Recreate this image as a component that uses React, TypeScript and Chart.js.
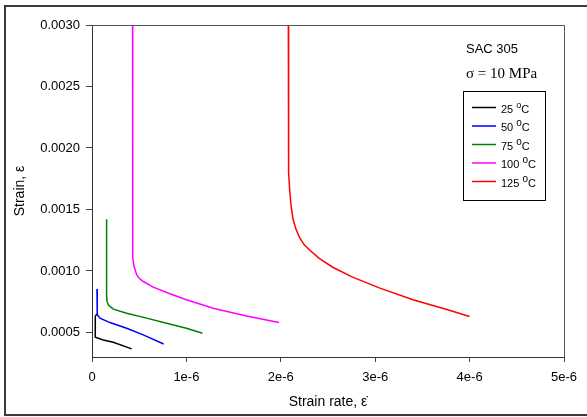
import React, { useEffect, useRef } from "react";
import { Chart, registerables } from "chart.js";

Chart.register(...registerables);

// strain rate values in units of 1e-6 (1/s), strain values dimensionless
const rate25 = [0.05, 0.035, 0.032, 0.032, 0.04, 0.12, 0.225, 0.42];
const strain25 = [0.00065, 0.00063, 0.0006, 0.00048, 0.00046, 0.000439, 0.00042, 0.000366];

const rate50 = [0.053, 0.053, 0.058, 0.085, 0.19, 0.367, 0.543, 0.759];
const strain50 = [0.000852, 0.00067, 0.000643, 0.000616, 0.00058, 0.000534, 0.00048, 0.000406];

const rate75 = [0.155, 0.155, 0.16, 0.173, 0.2, 0.226, 0.367, 0.579, 0.79, 1.0, 1.17];
const strain75 = [0.00142, 0.0008, 0.00075, 0.000724, 0.000705, 0.000689, 0.000656, 0.000616, 0.000575, 0.000534, 0.000493];

const rate100 = [0.43, 0.43, 0.433, 0.444, 0.473, 0.5, 0.543, 0.649, 0.825, 1.0, 1.284, 1.637, 1.98];
const strain100 = [0.003, 0.0012, 0.00111, 0.00104, 0.00097, 0.00094, 0.000914, 0.000868, 0.000814, 0.000765, 0.000697, 0.000634, 0.00058];

const rate125 = [2.08, 2.08, 2.085, 2.095, 2.11, 2.13, 2.16, 2.2, 2.25, 2.32, 2.41, 2.55, 2.76, 3.05, 3.4, 3.75, 4.0];
const strain125 = [0.003, 0.002, 0.0018, 0.00165, 0.00152, 0.00142, 0.00134, 0.00127, 0.00121, 0.00116, 0.0011, 0.00103, 0.00095, 0.00086, 0.000765, 0.000689, 0.00063];

const seriesTemps = ["25", "50", "75", "100", "125"];
const seriesColors = ["#000000", "#0000ff", "#008000", "#ff00ff", "#ff0000"];

const xTicks = [0, 1, 2, 3, 4, 5];
const xTickLabels = ["0", "1e-6", "2e-6", "3e-6", "4e-6", "5e-6"];
const yTicks = [0.0005, 0.001, 0.0015, 0.002, 0.0025, 0.003];
const yTickLabels = ["0.0005", "0.0010", "0.0015", "0.0020", "0.0025", "0.0030"];

const xMin = 0;
const xMax = 5;
const yMin = 0.0003;
const yMax = 0.003;

const materialLabel = "SAC 305";
const stressLabel = "\u03C3 = 10 MPa";

function pts(xs: number[], ys: number[]) {
  return xs.map((x, i) => ({ x, y: ys[i] }));
}

const decorPlugin = {
  id: "decor",
  afterDraw(chart: any) {
    const { ctx, chartArea: ca } = chart;
    ctx.save();
    // outer frame
    ctx.strokeStyle = "#3a3a3a";
    ctx.lineWidth = 2;
    ctx.beginPath();
    ctx.moveTo(600, 6);
    ctx.lineTo(5, 6);
    ctx.lineTo(5, 415);
    ctx.lineTo(600, 415);
    ctx.stroke();
    // plot box top and right
    ctx.strokeStyle = "#555555";
    ctx.lineWidth = 1;
    ctx.beginPath();
    ctx.moveTo(ca.left, Math.round(ca.top) + 0.5);
    ctx.lineTo(Math.round(ca.right) + 0.5, Math.round(ca.top) + 0.5);
    ctx.lineTo(Math.round(ca.right) + 0.5, ca.bottom);
    ctx.stroke();

    // annotations
    ctx.fillStyle = "#000";
    ctx.textBaseline = "alphabetic";
    ctx.textAlign = "left";
    ctx.font = "13px 'Liberation Sans', Arial, sans-serif";
    ctx.fillText(materialLabel, 466, 53);
    ctx.font = "15px 'Liberation Serif', 'Times New Roman', serif";
    ctx.fillText(stressLabel, 466, 78);

    // legend box
    ctx.strokeStyle = "#000";
    ctx.lineWidth = 1;
    ctx.strokeRect(463.5, 91.5, 82, 109);
    const ds = chart.data.datasets;
    for (let i = 0; i < ds.length; i++) {
      const y = 107.5 + i * 18.5;
      ctx.strokeStyle = ds[i].borderColor;
      ctx.lineWidth = 1.5;
      ctx.beginPath();
      ctx.moveTo(472, y);
      ctx.lineTo(496, y);
      ctx.stroke();
      ctx.fillStyle = "#000";
      ctx.font = "11px 'Liberation Sans', Arial, sans-serif";
      const base = y + 5;
      let x = 501;
      const num = seriesTemps[i] + " ";
      ctx.fillText(num, x, base);
      x += ctx.measureText(num).width;
      ctx.font = i === 0 ? "9px 'Liberation Sans', Arial, sans-serif" : "10px 'Liberation Sans', Arial, sans-serif";
      ctx.fillText("o", x, base - 5);
      x += ctx.measureText("o").width;
      ctx.font = "11px 'Liberation Sans', Arial, sans-serif";
      ctx.fillText("C", x, base);
    }
    ctx.restore();
  },
};

export default function App() {
  const canvasRef = useRef<HTMLCanvasElement | null>(null);

  useEffect(() => {
    const canvas = canvasRef.current;
    if (!canvas) return;
    const rates = [rate25, rate50, rate75, rate100, rate125];
    const strains = [strain25, strain50, strain75, strain100, strain125];
    const datasets = rates.map((r, i) => ({
      label: seriesTemps[i] + " \u00B0C",
      data: pts(r, strains[i]),
      borderColor: seriesColors[i],
      backgroundColor: seriesColors[i],
      borderWidth: 1.5,
      pointRadius: 0,
      showLine: true,
      tension: 0,
      fill: false,
    }));
    const tickFont = { family: "'Liberation Sans', Arial, sans-serif", size: 13 };
    const titleFont = { family: "'Liberation Sans', Arial, sans-serif", size: 14 };
    const chart = new Chart(canvas, {
      type: "scatter",
      data: { datasets },
      options: {
        animation: false,
        responsive: false,
        events: [],
        layout: { padding: { left: 0, top: 25, right: 23, bottom: 0 } },
        plugins: {
          legend: { display: false },
          tooltip: { enabled: false },
        },
        scales: {
          x: {
            type: "linear",
            min: xMin,
            max: xMax,
            afterBuildTicks: (s: any) => {
              s.ticks = xTicks.map((v) => ({ value: v }));
            },
            afterFit: (s: any) => {
              s.height = 60;
            },
            ticks: {
              color: "#000",
              font: tickFont,
              padding: 8,
              maxRotation: 0,
              callback: (v: any) => {
                const i = xTicks.indexOf(Number(v));
                return i >= 0 ? xTickLabels[i] : "";
              },
            },
            grid: {
              drawOnChartArea: false,
              drawTicks: true,
              tickLength: 5,
              color: "#444",
            },
            border: { display: true, color: "#333", width: 1 },
            title: {
              display: true,
              text: "Strain rate, \u03B5\u0307",
              color: "#000",
              font: titleFont,
              padding: { top: 0, bottom: 6 },
            },
          },
          y: {
            type: "linear",
            min: yMin,
            max: yMax,
            afterBuildTicks: (s: any) => {
              s.ticks = yTicks.map((v) => ({ value: v }));
            },
            afterFit: (s: any) => {
              s.width = 92;
            },
            ticks: {
              color: "#000",
              font: tickFont,
              padding: 6,
              callback: (v: any) => {
                const i = yTicks.findIndex((t) => Math.abs(t - Number(v)) < 1e-9);
                return i >= 0 ? yTickLabels[i] : "";
              },
            },
            grid: {
              drawOnChartArea: false,
              drawTicks: true,
              tickLength: 6,
              color: "#444",
            },
            border: { display: true, color: "#333", width: 1 },
            title: {
              display: true,
              text: "Strain, \u03B5",
              color: "#000",
              font: titleFont,
              padding: { top: 12, bottom: 0 },
            },
          },
        },
      },
      plugins: [decorPlugin],
    } as any);
    return () => chart.destroy();
  }, []);

  return (
    <div style={{ position: "absolute", left: 0, top: 0, width: 587, height: 417, background: "#fff" }}>
      <canvas ref={canvasRef} width={587} height={417} style={{ display: "block" }} />
    </div>
  );
}
